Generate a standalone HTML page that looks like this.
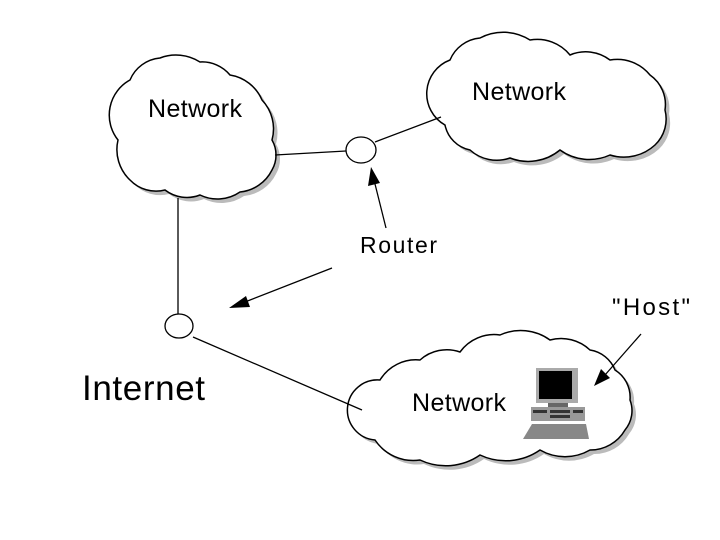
<!DOCTYPE html>
<html><head><meta charset="utf-8"><style>
html,body{margin:0;padding:0;background:#fff;}
svg{display:block;}
text{font-family:"Liberation Sans",Arial,sans-serif;fill:#000;}
</style></head><body>
<svg width="720" height="540" viewBox="0 0 720 540" xmlns="http://www.w3.org/2000/svg">
<defs>
<g id="c1"><path d="M130,80 A36,36 0 0 1 160,58 A45,45 0 0 1 200,62 A36,36 0 0 1 230,75 A42,42 0 0 1 262,100 A42,42 0 0 1 272,140 A30,30 0 0 1 272,170 A40,40 0 0 1 240,192 A40,40 0 0 1 200,195 A36,36 0 0 1 165,190 A36,36 0 0 1 130,180 A42,42 0 0 1 118,140 A40,40 0 0 1 130,80 Z"/></g>
<g id="c2"><path d="M450,60 A36,36 0 0 1 480,38 A50,50 0 0 1 530,40 A42,42 0 0 1 570,55 A40,40 0 0 1 610,60 A42,42 0 0 1 650,75 A36,36 0 0 1 665,110 A36,36 0 0 1 655,145 A46,46 0 0 1 610,155 A50,50 0 0 1 560,150 A50,50 0 0 1 510,158 A40,40 0 0 1 470,150 A32,32 0 0 1 445,125 A36,36 0 0 1 450,60 Z"/></g>
<g id="c3"><path d="M380,380 A42,42 0 0 1 420,360 A40,40 0 0 1 460,352 A42,42 0 0 1 500,335 A50,50 0 0 1 550,340 A42,42 0 0 1 590,350 A32,32 0 0 1 615,370 A32,32 0 0 1 630,400 A30,30 0 0 1 625,430 A40,40 0 0 1 590,450 A50,50 0 0 1 540,450 A60,60 0 0 1 480,455 A60,60 0 0 1 420,460 A46,46 0 0 1 375,440 A30,30 0 0 1 380,380 Z"/></g>
</defs>
<g fill="#bbb" stroke="none" transform="translate(4,4)"><use href="#c1"/><use href="#c2"/><use href="#c3"/></g>
<g fill="#fff" stroke="#000" stroke-width="1.5"><use href="#c1"/><use href="#c2"/><use href="#c3"/></g>
<g stroke="#000" stroke-width="1.3" fill="none">
<line x1="275" y1="155" x2="346" y2="151"/>
<line x1="375" y1="142" x2="441" y2="117"/>
<line x1="178" y1="198" x2="178" y2="314"/>
<line x1="193" y1="337" x2="362" y2="410"/>
<ellipse cx="361" cy="150" rx="15" ry="13" fill="#fff"/>
<ellipse cx="179" cy="326" rx="14" ry="12" fill="#fff"/>
<line x1="386" y1="228" x2="374" y2="180"/>
<line x1="332" y1="268" x2="245" y2="302"/>
<line x1="641" y1="334" x2="605" y2="375"/>
</g>
<g fill="#000">
<polygon points="371,167 368,186 380,183"/>
<polygon points="229,308 246,296 250,307"/>
<polygon points="594,386 601,369 610,378"/>
</g>
<rect x="536" y="368" width="42" height="35" fill="#aaa"/>
<rect x="539" y="371" width="33" height="28" fill="#000"/>
<rect x="548" y="403" width="20" height="4" fill="#666"/>
<rect x="531" y="407" width="54" height="14" fill="#999"/>
<rect x="533" y="410" width="14" height="3" fill="#333"/>
<rect x="550" y="410" width="20" height="3" fill="#333"/>
<rect x="550" y="415" width="20" height="3" fill="#333"/>
<rect x="573" y="410" width="10" height="3" fill="#333"/>
<polygon points="532,424 586,424 589,439 523,439" fill="#888"/>
<text x="148" y="117" font-size="25" textLength="94">Network</text>
<text x="472" y="100" font-size="25" textLength="94">Network</text>
<text x="412" y="411" font-size="25" textLength="94">Network</text>
<text x="360" y="253" font-size="23" textLength="77">Router</text>
<text x="82" y="400" font-size="35" textLength="123">Internet</text>
<text x="612" y="315" font-size="24" textLength="78">"Host"</text>
</svg>
</body></html>
